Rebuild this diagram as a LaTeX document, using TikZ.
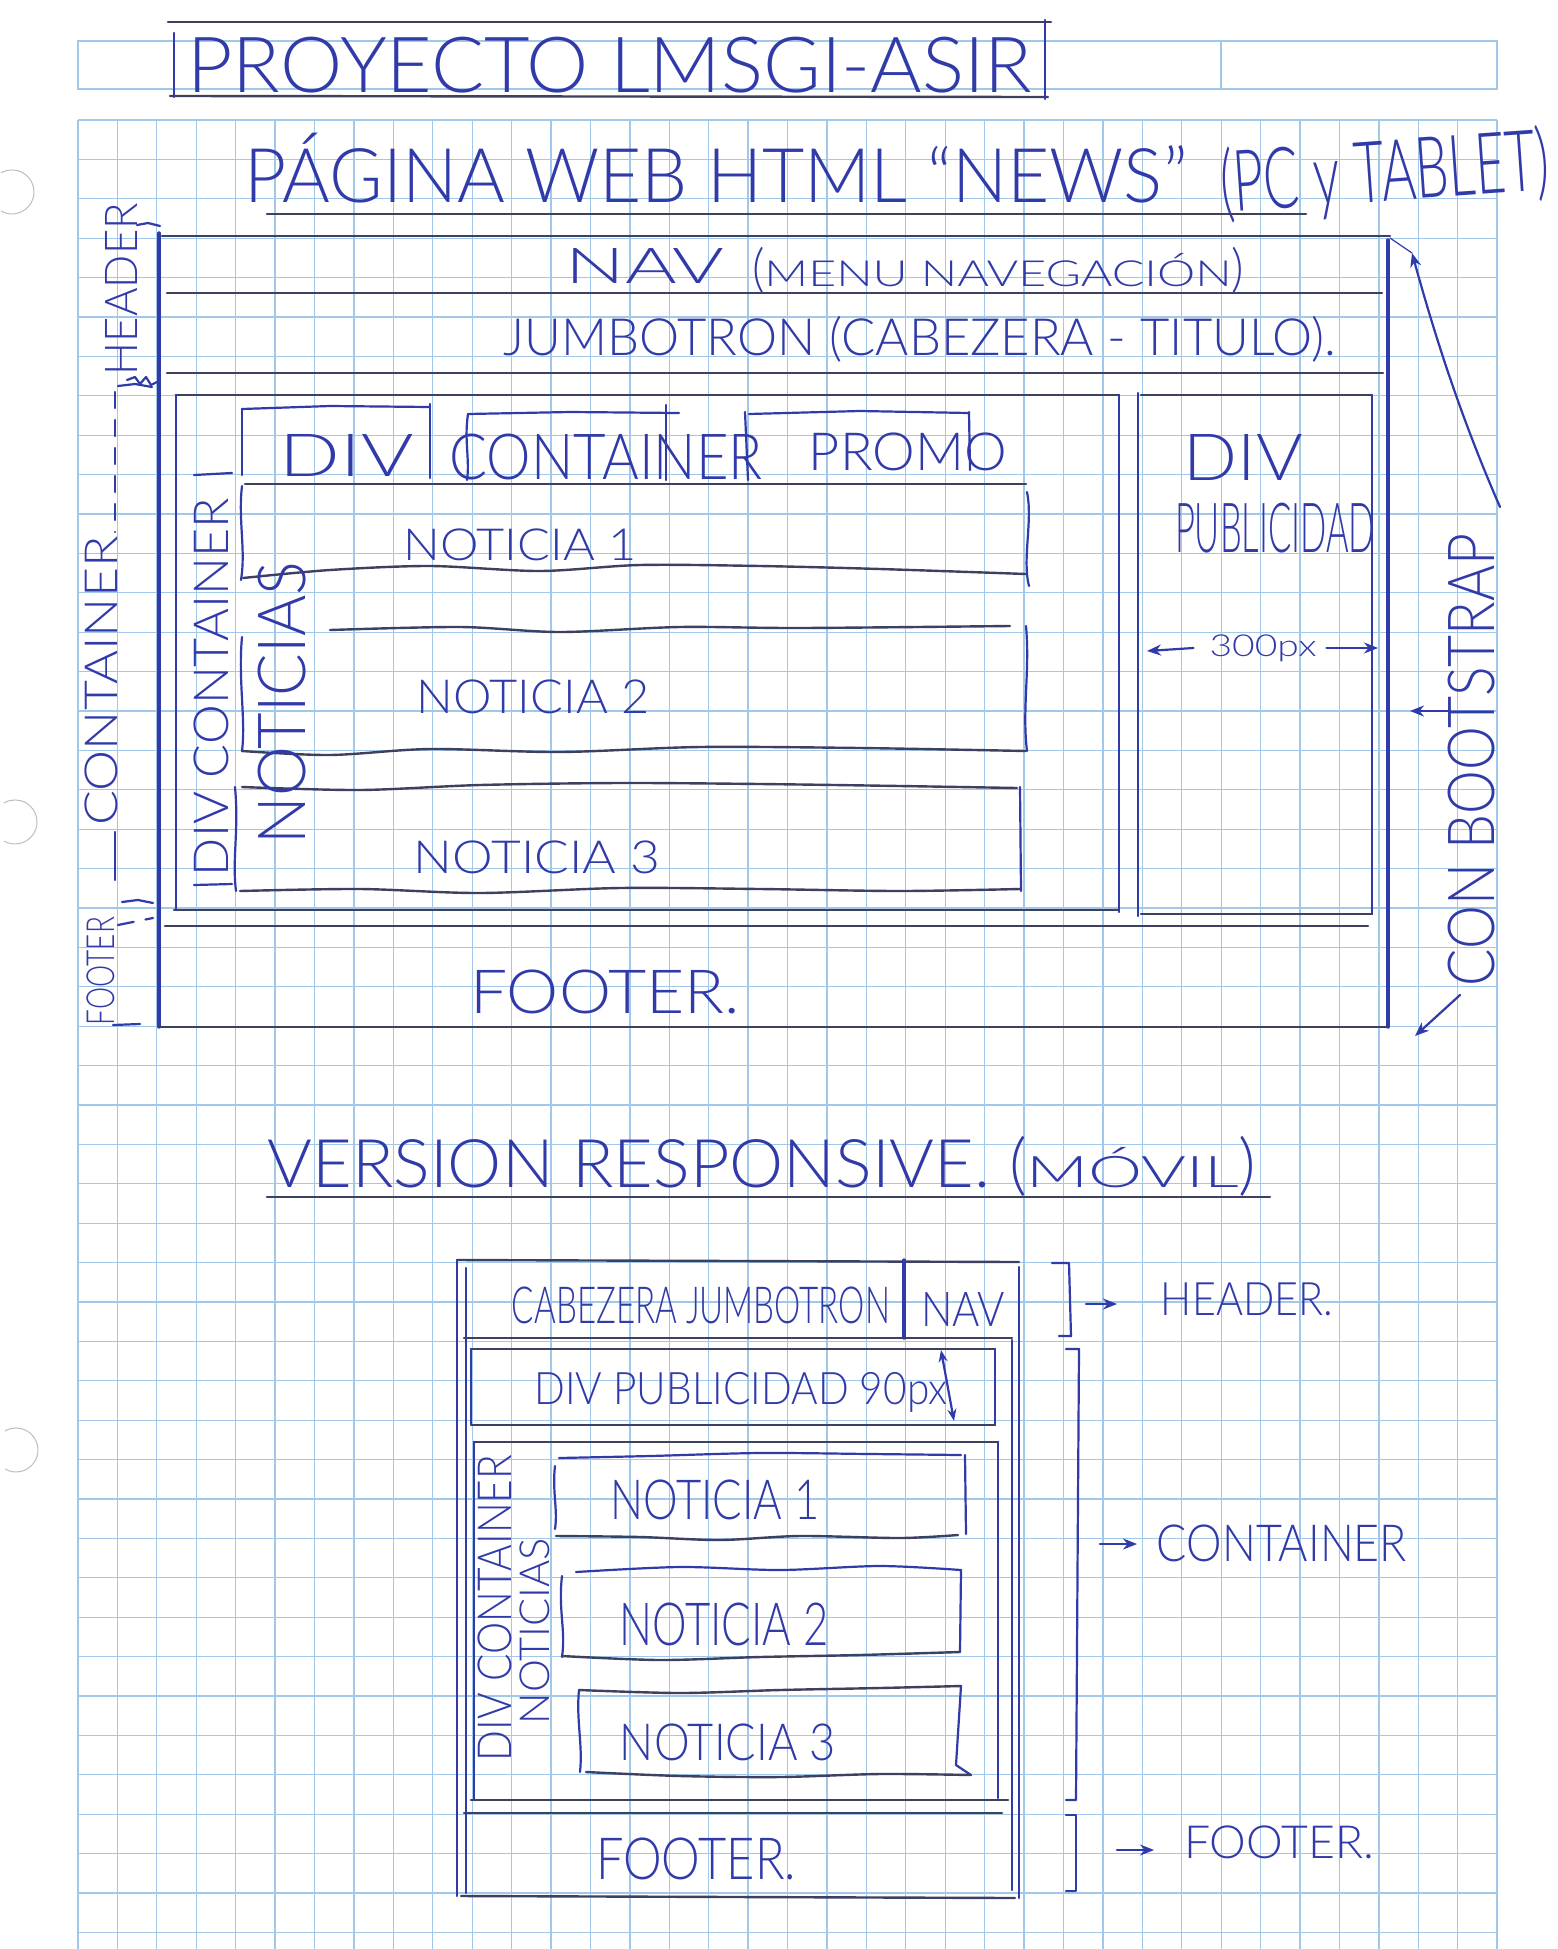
\documentclass[tikz,border=0pt]{standalone}
\usepackage{fontspec}
\setmainfont{Lato}[UprightFont={* Light}]
\usetikzlibrary{arrows.meta}
\newdimen\pxu
\pxu=0.5pt
% text squeezed into a given width and total height (in pixel units)
\newcommand\hw[3]{\resizebox*{#1\pxu}{#2\pxu}{#3}}
\definecolor{ink}{RGB}{48,58,168}
\definecolor{rule}{RGB}{62,64,96}
\definecolor{gridc}{RGB}{162,200,233}
\definecolor{holec}{RGB}{190,190,190}
\begin{document}
\begin{tikzpicture}[x=0.5pt,y=-0.5pt,
  pen/.style={draw=ink,line width=1.1pt,line cap=round,line join=round},
  heavypen/.style={draw=ink,line width=1.7pt,line cap=round},
  ruled/.style={draw=rule,line width=1.2pt,line cap=round,line join=round},
  lbl/.style={inner sep=0pt,outer sep=0pt,text=ink},
  arr/.style={pen,-{Stealth[length=7pt,width=5.5pt]}},
  darr/.style={pen,{Stealth[length=6pt,width=4.5pt]}-{Stealth[length=6pt,width=4.5pt]}},
  dashpen/.style={pen,dash pattern=on 8pt off 6pt},
]
\fill[white] (0,0) rectangle (1558,1949);
\useasboundingbox (0,0) rectangle (1558,1949);

% squared paper
\begin{scope}[draw=gridc,line width=0.65pt]
  \foreach \i in {0,...,36} \draw (78+39.42*\i,120) -- (78+39.42*\i,1949);
  \foreach \j in {0,...,46} \draw (78,120+39.4*\j) -- (1497,120+39.4*\j);
  \draw (78,41) rectangle (1497,89);
  \draw (1221,41) -- (1221,89);
\end{scope}

% punched holes of the sheet
\begin{scope}[draw=holec,line width=0.5pt]
  \draw (1,211) arc[start angle=120,end angle=-120,radius=22];
  \draw (4,841) arc[start angle=120,end angle=-120,radius=22];
  \draw (5,1469) arc[start angle=120,end angle=-120,radius=22];
\end{scope}

% ---------------- title ----------------
\draw[ruled] (168,22) -- (1051,22);
\draw[ruled] (170,96) -- (1048,97);
\draw[pen] (174,33) -- (174,97);
\draw[pen] (1045,20) -- (1045,99);
\node[lbl] (title) at (610,65) {\hw{845}{56}{PROYECTO LMSGI-ASIR}};

% ---------------- desktop page ----------------
\node[lbl] (headA) at (716,168) {\hw{943}{70}{PÁGINA WEB HTML “NEWS”}};
\node[lbl,rotate=4] (headB) at (1385,176) {\hw{330}{80}{(PC y TABLET)}};
\draw[ruled] (267,214) -- (1306,214);

% outer frame
\draw[ruled] (162,236) -- (1390,236);
\draw[heavypen] (159,233) -- (159,1027);
\draw[heavypen] (1388,240) -- (1388,1027);
\draw[ruled] (159,1027) -- (1386,1027);

% nav and jumbotron bands
\node[lbl] (navA) at (645,266) {\hw{159}{35}{NAV}};
\node[lbl] (navB) at (998,270) {\hw{492}{46}{(\scalebox{1}[0.7]{MENU NAVEGACIÓN})}};
\draw[ruled] (167,293) -- (1382,293);
\node[lbl] (jumbo) at (920,339) {\hw{833}{46}{JUMBOTRON (CABEZERA - TITULO).}};
\draw[ruled] (167,373) -- (1383,373);

% main column
\draw[ruled] (176,395) -- (1119,395);
\draw[pen] (176,395) -- (176,910);
\draw[pen] (1119,395) -- (1119,912);
\draw[ruled] (174,910) -- (1119,910);

% promo row
\draw[pen] (242,409) -- (330,406) -- (430,407);
\draw[pen] (242,409) -- (242,475);
\draw[pen] (430,404) -- (430,478);
\draw[pen] (468,414) -- (570,412) -- (679,413);
\draw[pen] (468,414) .. controls (464,440) and (470,460) .. (467,480);
\draw[pen] (666,405) -- (666,480);
\draw[pen] (749,414) -- (860,411) -- (969,413);
\draw[pen] (745,412) -- (748,480);
\draw[pen] (969,412) -- (970,470);
\node[lbl] (pdiv) at (347,455) {\hw{134}{42}{DIV}};
\node[lbl] (pcont) at (606,457) {\hw{313}{46}{CONTAINER}};
\node[lbl] (ppromo) at (908,452) {\hw{198}{38}{PROMO}};
\draw[ruled] (245,484) -- (1026,484);

% news items
\draw[pen] (242,486) .. controls (238,520) and (246,550) .. (241,580);
\draw[pen] (1027,492) .. controls (1033,520) and (1022,560) .. (1029,586);
\draw[ruled] plot[smooth] coordinates {(243,578) (330,570) (430,566) (540,571) (640,565) (760,566) (880,569) (1026,574)};
\node[lbl] (n1) at (520,545) {\hw{233}{32}{NOTICIA 1}};

\draw[ruled] plot[smooth] coordinates {(330,630) (460,627) (560,632) (680,627) (800,628) (1010,626)};
\draw[pen] (242,637) .. controls (238,680) and (246,720) .. (242,751);
\draw[pen] (1026,626) .. controls (1030,670) and (1022,710) .. (1027,751);
\draw[ruled] plot[smooth] coordinates {(242,751) (330,755) (430,749) (560,752) (700,747) (860,748) (1026,751)};
\node[lbl] (n2) at (533,697) {\hw{233}{34}{NOTICIA 2}};

\draw[ruled] plot[smooth] coordinates {(242,787) (360,790) (480,785) (620,783) (760,784) (900,786) (1017,788)};
\draw[pen] (235,787) .. controls (239,830) and (232,860) .. (236,891);
\draw[pen] (1020,787) -- (1021,891);
\draw[ruled] plot[smooth] coordinates {(240,891) (360,889) (480,893) (620,888) (760,889) (900,891) (1020,889)};
\node[lbl] (n3) at (537,857) {\hw{246}{33}{NOTICIA 3}};

% side labels of the main column
\draw[pen] (194,475) -- (232,473);
\draw[pen] (194,885) -- (232,884);
\node[lbl,rotate=90] (divcont) at (211,687) {\hw{378}{35}{DIV CONTAINER}};
\node[lbl,rotate=90] (notis) at (282,703) {\hw{282}{48}{NOTICIAS}};

% advertising column
\draw[pen] (1138,393) -- (1138,916);
\draw[ruled] (1141,395) -- (1372,395);
\draw[pen] (1372,395) -- (1372,914);
\draw[ruled] (1141,914) -- (1372,914);
\node[lbl] (adiv) at (1243,457) {\hw{119}{46}{DIV}};
\node[lbl] (apub) at (1275,528) {\hw{200}{50}{PUBLICIDAD}};
\node[lbl] (px300) at (1263,648) {\hw{107}{27}{300px}};
\coordinate (pxl) at (1147,651);
\coordinate (pxr) at (1378,648);
\draw[arr] ([xshift=-8pt]px300.west) -- (pxl);
\draw[arr] ([xshift=5pt]px300.east) -- (pxr);

% footer band
\draw[ruled] (165,926) -- (1368,926);
\node[lbl] (pfoot) at (605,992) {\hw{270}{44}{FOOTER.}};

% left-hand section marks
\node[lbl,rotate=90] (lhead) at (121,289) {\hw{172}{32}{HEADER}};
\draw[pen] (137,225) -- (148,223) -- (160,226);
\draw[pen] (127,380) -- (135,377) -- (140,384) -- (146,377) -- (151,385) -- (157,382);
\draw[pen] (118,386) -- (135,384) -- (152,387);
\draw[dashpen] (115,392) -- (115,532);
\node[lbl,rotate=90] (lcont) at (101,681) {\hw{289}{33}{CONTAINER}};
\draw[pen] (115,832) -- (115,880);
\draw[pen] (122,902) -- (138,900) -- (153,903);
\draw[dashpen] (118,925) -- (153,918);
\node[lbl,rotate=90] (lfoot) at (101,971) {\hw{108}{28}{FOOTER}};
\draw[pen] (113,1025) -- (140,1024);

% right-hand note
\coordinate (bsTail) at (1500,507);
\coordinate (bsTip) at (1412,253);
\coordinate (frameCorner) at (1390,238);
\draw[arr] (bsTail) .. controls (1462,420) and (1436,340) .. (bsTip);
\draw[pen,line width=0.6pt] (bsTip) -- (frameCorner);
\node[lbl,rotate=90] (boot) at (1471,760) {\hw{453}{47}{CON BOOTSTRAP}};
\coordinate (bootL) at (1410,711);
\coordinate (bootD) at (1415,1036);
\draw[arr] (1448,711) -- (bootL);
\draw[arr] (1460,995) -- (bootD);

% ---------------- mobile page ----------------
\node[lbl] (mhead) at (762,1166) {\hw{989}{60}{VERSION RESPONSIVE. (\scalebox{1}[0.65]{MÓVIL})}};
\draw[ruled] (267,1197) -- (1270,1197);

% outer frame
\draw[ruled] (457,1260) -- (1019,1262);
\draw[pen] (457,1260) -- (457,1896);
\draw[pen] (466,1268) -- (466,1893);
\draw[pen] (1019,1267) -- (1019,1898);
\draw[pen] (1012,1340) -- (1012,1890);
\draw[ruled] (461,1896) -- (1015,1898);

% header band
\draw[heavypen] (904,1260) -- (904,1338);
\draw[ruled] (464,1338) -- (1012,1338);
\node[lbl] (mjumbo) at (701,1305) {\hw{378}{37}{CABEZERA JUMBOTRON}};
\node[lbl] (mnav) at (963,1309) {\hw{84}{34}{NAV}};

% advertising band
\draw[ruled] (471,1349) -- (995,1349);
\draw[pen] (471,1349) -- (471,1424);
\draw[pen] (995,1349) -- (995,1425);
\draw[ruled] (471,1425) -- (995,1425);
\node[lbl] (mpub) at (741,1392) {\hw{413}{40}{DIV PUBLICIDAD 90px}};
\coordinate (m90a) at (941,1350);
\coordinate (m90b) at (954,1421);
\draw[darr] (m90a) -- (m90b);

% news container
\draw[ruled] (474,1442) -- (998,1442);
\draw[pen] (474,1442) -- (474,1800);
\draw[pen] (998,1442) -- (998,1798);
\draw[ruled] (471,1800) -- (1008,1800);
\node[lbl,rotate=90] (mdivc) at (495,1608) {\hw{306}{34}{DIV CONTAINER}};
\node[lbl,rotate=90] (mnotis) at (535,1631) {\hw{186}{30}{NOTICIAS}};

\draw[pen] plot[smooth] coordinates {(559,1458) (650,1456) (760,1453) (870,1454) (961,1455)};
\draw[pen] (555,1466) .. controls (552,1490) and (558,1510) .. (555,1529);
\draw[pen] (965,1455) -- (966,1534);
\draw[ruled] plot[smooth] coordinates {(556,1536) (640,1537) (720,1540) (800,1536) (900,1538) (958,1535)};
\node[lbl] (mn1) at (715,1500) {\hw{209}{40}{NOTICIA 1}};

\draw[pen] plot[smooth] coordinates {(576,1572) (680,1567) (780,1570) (880,1566) (961,1570)};
\draw[pen] (562,1576) .. controls (558,1610) and (566,1630) .. (562,1657);
\draw[pen] (961,1570) -- (960,1652);
\draw[ruled] plot[smooth] coordinates {(562,1656) (660,1660) (760,1657) (860,1655) (960,1652)};
\node[lbl] (mn2) at (724,1624) {\hw{209}{43}{NOTICIA 2}};

\draw[ruled] plot[smooth] coordinates {(579,1690) (680,1693) (780,1690) (880,1688) (961,1686)};
\draw[pen] (579,1690) .. controls (576,1720) and (583,1745) .. (580,1772);
\draw[pen] (961,1686) -- (956,1765) -- (971,1775);
\draw[ruled] plot[smooth] coordinates {(586,1772) (680,1776) (780,1777) (880,1774) (971,1775)};
\node[lbl] (mn3) at (728,1742) {\hw{216}{37}{NOTICIA 3}};

% footer band
\draw[ruled] (464,1813) -- (1002,1813);
\node[lbl] (mfoot) at (696,1859) {\hw{200}{42}{FOOTER.}};

% brackets with their notes
\draw[pen] (1052,1263) -- (1069,1263) -- (1071,1336) -- (1059,1336);
\node[lbl] (nhead) at (1247,1299) {\hw{172}{33}{HEADER.}};
\coordinate (nheadArr) at (1117,1304);
\draw[arr] (1086,1304) -- (nheadArr);

\draw[pen] (1066,1349) -- (1079,1349) -- (1076,1800) -- (1066,1800);
\node[lbl] (ncont) at (1282,1543) {\hw{250}{37}{CONTAINER}};
\coordinate (ncontArr) at (1137,1544);
\draw[arr] (1100,1544) -- (ncontArr);

\draw[pen] (1066,1815) -- (1076,1815) -- (1076,1891) -- (1066,1891);
\node[lbl] (nfoot) at (1279,1842) {\hw{190}{33}{FOOTER.}};
\coordinate (nfootArr) at (1154,1850);
\draw[arr] (1117,1850) -- (nfootArr);
\end{tikzpicture}
\end{document}
